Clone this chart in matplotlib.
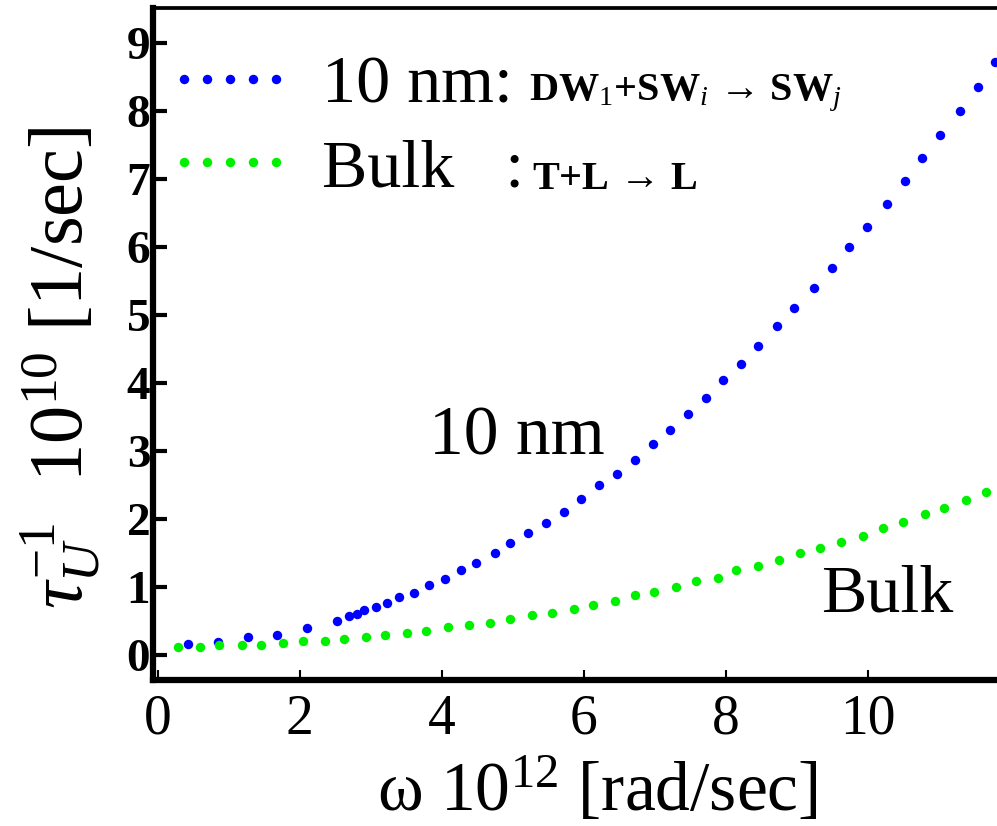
import matplotlib
matplotlib.use('Agg')
import matplotlib.pyplot as plt
from matplotlib import font_manager
from matplotlib.lines import Line2D

installed = {f.name for f in font_manager.fontManager.ttflist}
serif = next((n for n in ['Liberation Serif', 'Nimbus Roman', 'DejaVu Serif'] if n in installed), 'serif')

plt.rcParams['font.family'] = 'serif'
plt.rcParams['font.serif'] = [serif, 'DejaVu Serif']
plt.rcParams['mathtext.fontset'] = 'custom'
plt.rcParams['mathtext.rm'] = serif
plt.rcParams['mathtext.it'] = serif + ':italic'
plt.rcParams['mathtext.bf'] = serif + ':bold'

# 10 nm: DW1 + SWi -> SWj
omega_10nm = [0.42, 0.85, 1.27, 1.68, 2.10, 2.52, 2.69, 2.80, 2.90, 3.07, 3.23, 3.39,
              3.61, 3.82, 4.04, 4.27, 4.48, 4.75, 4.96, 5.21, 5.46, 5.72, 5.96, 6.21,
              6.46, 6.72, 6.97, 7.21, 7.46, 7.72, 7.96, 8.21, 8.46, 8.72, 8.96, 9.24,
              9.49, 9.73, 9.99, 10.27, 10.52, 10.77, 11.01, 11.30, 11.55, 11.79]
rate_10nm = [0.16, 0.19, 0.26, 0.29, 0.39, 0.50, 0.57, 0.60, 0.66, 0.71, 0.76, 0.85,
             0.91, 1.03, 1.12, 1.24, 1.35, 1.50, 1.65, 1.79, 1.94, 2.10, 2.29, 2.49,
             2.66, 2.87, 3.10, 3.31, 3.54, 3.78, 4.04, 4.28, 4.54, 4.84, 5.10, 5.40,
             5.69, 6.00, 6.29, 6.63, 6.97, 7.31, 7.65, 8.00, 8.35, 8.72]

# Bulk: T + L -> L
omega_bulk = [0.28, 0.59, 0.86, 1.18, 1.45, 1.76, 2.04, 2.35, 2.62, 2.93, 3.20, 3.51,
              3.77, 4.08, 4.38, 4.68, 4.96, 5.27, 5.55, 5.86, 6.13, 6.44, 6.72, 6.99,
              7.30, 7.58, 7.89, 8.15, 8.45, 8.75, 9.04, 9.32, 9.62, 9.93, 10.21, 10.49,
              10.80, 11.08, 11.38, 11.66]
rate_bulk = [0.12, 0.11, 0.15, 0.15, 0.15, 0.18, 0.20, 0.21, 0.24, 0.26, 0.29, 0.32,
             0.35, 0.41, 0.44, 0.47, 0.53, 0.59, 0.62, 0.68, 0.74, 0.79, 0.88, 0.93,
             1.00, 1.09, 1.13, 1.24, 1.31, 1.40, 1.49, 1.57, 1.66, 1.75, 1.87, 1.96,
             2.07, 2.16, 2.28, 2.40]

blue = '#0000ff'
green = '#00f000'

fig = plt.figure(figsize=(9.97, 8.26), dpi=100)
ax = fig.add_axes([153 / 997, 146 / 826, 844 / 997, 672 / 826])

ax.plot(omega_10nm, rate_10nm, 'o', color=blue, ms=6.8, mew=0, clip_on=False)
ax.plot(omega_bulk, rate_bulk, 'o', color=green, ms=6.8, mew=0, clip_on=False)

ax.set_xlim(-0.07, 11.82)
ax.set_ylim(-0.37, 9.51)
ax.set_xticks([0, 2, 4, 6, 8, 10])
ax.set_yticks(range(10))

ax.spines['right'].set_visible(False)
ax.spines['left'].set_linewidth(4.5)
ax.spines['bottom'].set_linewidth(4.5)
ax.spines['top'].set_linewidth(2.7)

ax.tick_params(axis='y', direction='in', length=10, width=3, pad=2, labelsize=34)
ax.tick_params(axis='x', direction='in', length=7, width=1.5, pad=10, labelsize=40)
for lab in ax.get_yticklabels():
    lab.set_fontweight('bold')

ax.set_xlabel(r'ω $10^{12}$ [rad/sec]', fontsize=50)
ax.xaxis.set_label_coords(0.527, -0.116)
ax.set_ylabel(r'$\tau_U^{-1}$  $10^{10}$ [1/sec]', fontsize=55)
ax.yaxis.set_label_coords(-0.06, 0.465)

ax.text(5.06, 2.94, '10 nm', fontsize=50, ha='center', va='baseline')
ax.text(10.28, 0.63, 'Bulk', fontsize=49, ha='center', va='baseline')

handles = [Line2D([], [], ls='None', marker='o', color=blue, ms=6.8, mew=0),
           Line2D([], [], ls='None', marker='o', color=green, ms=6.8, mew=0)]
ax.legend(handles, ['10 nm:', 'Bulk   :'], loc='upper left', bbox_to_anchor=(0.013, 0.93),
          numpoints=5, handlelength=1.95, handletextpad=0.37, labelspacing=0.32,
          borderpad=0, borderaxespad=0, frameon=False, fontsize=49)

ax.text(0.4455, 0.862, r'$\mathbf{DW}_{1}\mathbf{+SW}_{i}\,\rightarrow\,\mathbf{SW}_{j}$',
        transform=ax.transAxes, fontsize=29, va='baseline')
ax.text(0.449, 0.73, r'$\mathbf{T{+}L}\,\rightarrow\,\mathbf{L}$',
        transform=ax.transAxes, fontsize=29, va='baseline')

fig.savefig('out.png', dpi=100)
